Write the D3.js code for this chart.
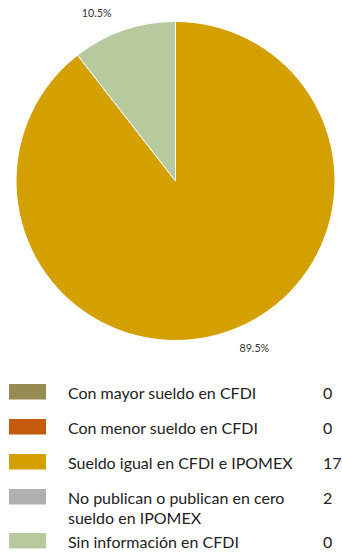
<!DOCTYPE html>
<html>
<head>
<meta charset="utf-8">
<script src="https://cdn.jsdelivr.net/npm/d3@7"></script>
<style>
  html, body { margin: 0; padding: 0; background: #fff; }
  svg { display: block; font-family: Lato, "Open Sans", sans-serif; }
</style>
</head>
<body>
<svg id="chart" width="342" height="555"></svg>
<script>
const categories = [
  "Con mayor sueldo en CFDI",
  "Con menor sueldo en CFDI",
  "Sueldo igual en CFDI e IPOMEX",
  "No publican o publican en cero sueldo en IPOMEX",
  "Sin información en CFDI"
];
const values = [0, 0, 17, 2, 0];
const legendColors = ["#968B52", "#C55A0C", "#D4A000", "#B0B0B0", "#B6CA9E"];
const sliceColors = ["#968B52", "#C55A0C", "#D4A000", "#B6CA9E", "#B6CA9E"];

(function draw() {
const svg = d3.select("#chart");
const cx = 175.5, cy = 181, R = 159.5;
const total = d3.sum(values);

const pie = d3.pie().sort(null).value(d => d.v);
const arcs = pie(categories.map((c, i) => ({ c, v: values[i], i })));
const arc = d3.arc().innerRadius(0).outerRadius(R);

const g = svg.append("g").attr("transform", `translate(${cx},${cy})`);
g.selectAll("path")
  .data(arcs.filter(a => a.data.v > 0))
  .join("path")
  .attr("d", arc)
  .attr("fill", d => sliceColors[d.data.i])
  .attr("stroke", "#fff")
  .attr("stroke-width", 1);

const fmt = d3.format(".1f");
g.selectAll("text.lbl")
  .data(arcs.filter(a => a.data.v > 0))
  .join("text")
  .attr("class", "lbl")
  .each(function(d) {
    const m = (d.startAngle + d.endAngle) / 2;
    const s = Math.sin(m), c = Math.cos(m);
    const rl = 177;
    const x = s * rl + (s >= 0 ? 6.5 : -6.5);
    const y = -c * rl;
    d3.select(this)
      .attr("x", x).attr("y", y + 3.8)
      .attr("text-anchor", s >= 0 ? "start" : "end")
      .attr("font-size", 10.7)
      .attr("fill", "#333")
      .text(fmt(d.data.v / total * 100) + "%");
  });

// Legend
const lg = svg.append("g");
let rowTop = 384;
const textX = 68, valX = 323, maxW = 240;
categories.forEach((c, i) => {
  const row = lg.append("g");
  row.append("rect")
    .attr("x", 9).attr("y", rowTop).attr("width", 37).attr("height", 15.5)
    .attr("fill", legendColors[i]);
  const t = row.append("text")
    .attr("x", textX).attr("y", rowTop + 15)
    .attr("font-size", 16).attr("fill", "#222");
  const words = c.split(" ");
  let line = [];
  let lines = 0;
  let tspan = t.append("tspan").attr("x", textX).attr("dy", 0);
  words.forEach(w => {
    line.push(w);
    tspan.text(line.join(" "));
    if (tspan.node().getComputedTextLength() > maxW && line.length > 1) {
      line.pop();
      tspan.text(line.join(" "));
      line = [w];
      lines++;
      tspan = t.append("tspan").attr("x", textX).attr("dy", 20).text(w);
    }
  });
  lines++;
  row.append("text")
    .attr("x", valX).attr("y", rowTop + 15)
    .attr("font-size", 16).attr("fill", "#222")
    .text(values[i]);
  rowTop += 35 + (lines - 1) * 9;
});
})();
</script>
</body>
</html>
